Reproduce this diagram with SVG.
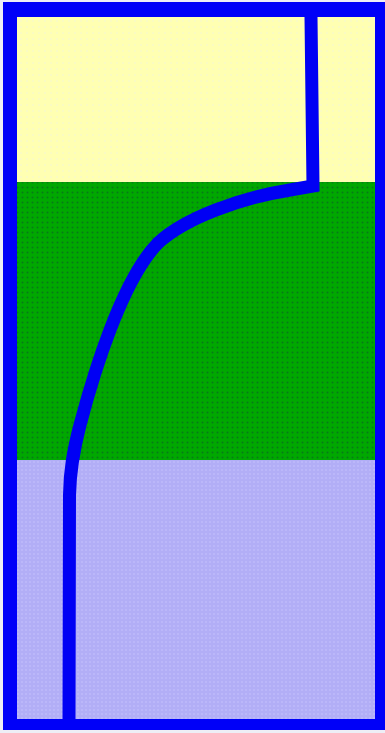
<svg xmlns="http://www.w3.org/2000/svg" width="385" height="733" viewBox="0 0 385 733">
  <defs>
    <pattern id="dotsY" width="6" height="6" patternUnits="userSpaceOnUse">
      <rect width="6" height="6" fill="#ffffb2"/>
      <circle cx="3" cy="3" r="0.8" fill="#f4f8d8"/>
    </pattern>
    <pattern id="dotsG" width="5" height="5" patternUnits="userSpaceOnUse">
      <rect width="5" height="5" fill="#00a800"/>
      <circle cx="2.5" cy="2.5" r="1" fill="#087a18"/>
    </pattern>
    <pattern id="dotsL" width="4" height="4" patternUnits="userSpaceOnUse">
      <rect width="4" height="4" fill="#b2aef6"/>
      <circle cx="2" cy="2" r="0.8" fill="#c8c4ff"/>
    </pattern>
  </defs>
  <style>
    .line { fill: none; stroke: #0000f4; stroke-width: 13; stroke-linejoin: miter; }
  </style>
  <rect x="0" y="0" width="385" height="733" fill="#eeeef6"/>
  <rect x="3" y="2" width="382" height="728" fill="#0000f8"/>
  <g id="layer-top">
    <rect x="17" y="17" width="358" height="165" fill="url(#dotsY)"/>
  </g>
  <g id="layer-middle">
    <rect x="17" y="182" width="358" height="278" fill="url(#dotsG)"/>
  </g>
  <g id="layer-bottom">
    <rect x="17" y="460" width="358" height="259" fill="url(#dotsL)"/>
  </g>
  <g id="profile">
    <path class="line" d="M311,17 L313,186 L290,190 C240,198 185,218 158,243 C122,280 94,372 80,425 C73,452 70,470 69.5,495 L69,719"/>
  </g>
</svg>
